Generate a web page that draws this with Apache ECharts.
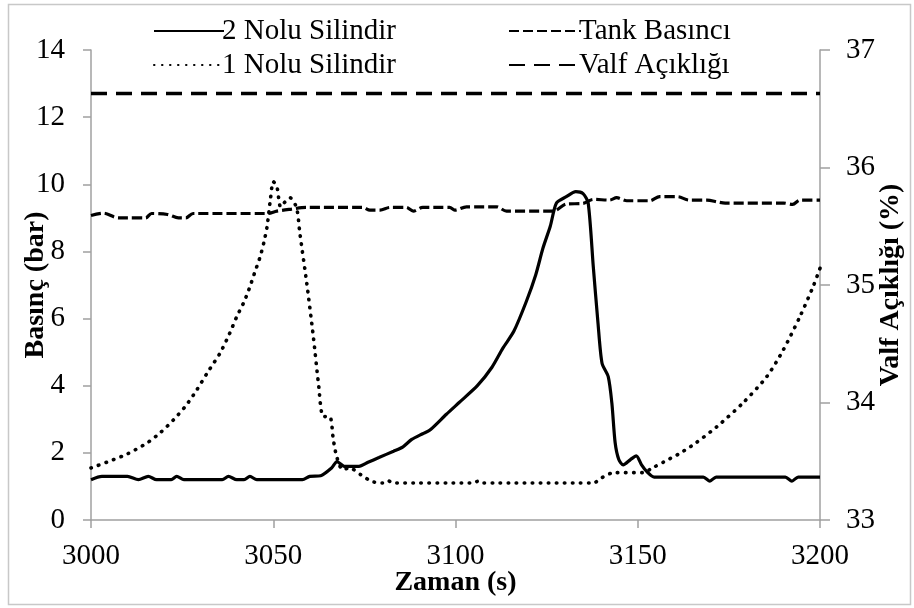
<!DOCTYPE html>
<html>
<head>
<meta charset="utf-8">
<script src="https://cdn.jsdelivr.net/npm/echarts@6/dist/echarts.min.js"></script>
<style>html,body{margin:0;padding:0;background:#fff}#c{width:914px;height:608px}</style>
</head>
<body>
<div id="c"></div>
<script>
// ---- data ----
const xTicks = [3000, 3050, 3100, 3150, 3200];

const cyl2Time = [3000, 3003, 3010, 3013, 3015.7, 3018, 3022, 3023.5, 3025.5, 3036, 3037.7, 3040, 3042, 3043.6, 3045.5, 3058, 3060, 3063, 3066, 3067.5, 3069.5, 3073.5, 3076, 3079, 3083, 3085.6, 3088, 3091, 3093, 3097.5, 3101, 3106, 3110, 3113, 3116, 3119.4, 3122, 3124, 3126, 3127.7, 3130.4, 3133, 3135, 3136.4, 3137.8, 3139.1, 3140.2, 3141.9, 3142.9, 3143.8, 3144.8, 3146, 3148, 3149.6, 3151, 3152.5, 3154.5, 3168, 3169.8, 3171.5, 3190.5, 3192.3, 3194, 3200];
const cyl2Pressure = [1.2, 1.3, 1.3, 1.2, 1.3, 1.2, 1.2, 1.3, 1.2, 1.2, 1.3, 1.2, 1.2, 1.3, 1.2, 1.2, 1.3, 1.32, 1.55, 1.74, 1.6, 1.6, 1.72, 1.86, 2.05, 2.18, 2.4, 2.57, 2.68, 3.15, 3.5, 4.0, 4.55, 5.12, 5.62, 6.5, 7.3, 8.1, 8.75, 9.44, 9.63, 9.78, 9.72, 9.44, 7.55, 5.86, 4.67, 4.27, 3.48, 2.3, 1.8, 1.64, 1.8, 1.91, 1.65, 1.44, 1.28, 1.28, 1.16, 1.28, 1.28, 1.16, 1.28, 1.28];

const cyl1Time = [3000, 3006, 3010, 3015.3, 3019, 3022.6, 3026, 3029, 3032, 3035.4, 3038, 3040, 3042, 3043.6, 3045, 3046.4, 3047.5, 3048.3, 3049.2, 3050, 3051, 3052, 3053, 3054.6, 3056.4, 3057.3, 3059.2, 3061, 3062.4, 3063.7, 3065.5, 3066.5, 3067.4, 3069, 3071, 3074, 3077, 3080, 3081.5, 3083, 3105, 3106, 3107, 3137.8, 3140, 3143.4, 3151.5, 3154, 3157, 3161.6, 3166, 3171.7, 3178.8, 3185.4, 3189.9, 3194.5, 3198.1, 3200];
const cyl1Pressure = [1.55, 1.79, 1.97, 2.29, 2.6, 2.98, 3.4, 3.87, 4.4, 4.97, 5.55, 6.06, 6.5, 6.95, 7.4, 7.84, 8.3, 8.74, 9.53, 10.08, 9.93, 9.33, 9.45, 9.6, 9.3, 8.54, 7.05, 5.46, 4.07, 3.08, 3.08, 2.38, 1.89, 1.5, 1.55, 1.35, 1.15, 1.1, 1.17, 1.1, 1.1, 1.15, 1.1, 1.1, 1.25, 1.41, 1.41, 1.55, 1.72, 1.99, 2.3, 2.78, 3.48, 4.27, 5.06, 6.06, 6.95, 7.5];

const tankTime = [3000, 3003.4, 3007.5, 3010, 3015, 3016.6, 3021, 3024, 3026, 3028, 3048.4, 3051, 3055, 3059, 3074.6, 3076.5, 3079.3, 3082, 3086.5, 3088.4, 3091, 3098.4, 3099.8, 3103, 3111.3, 3114, 3126.8, 3130.4, 3135, 3137.8, 3142.3, 3144.2, 3147, 3153.3, 3156, 3161, 3164, 3169, 3172, 3174, 3190, 3192.5, 3194.5, 3200];
const tankPressure = [9.07, 9.14, 9.0, 9.0, 9.0, 9.13, 9.1, 9.0, 9.0, 9.13, 9.13, 9.2, 9.26, 9.31, 9.31, 9.23, 9.23, 9.31, 9.31, 9.2, 9.31, 9.31, 9.23, 9.33, 9.33, 9.2, 9.2, 9.41, 9.43, 9.55, 9.53, 9.6, 9.51, 9.51, 9.63, 9.63, 9.53, 9.53, 9.47, 9.44, 9.44, 9.4, 9.53, 9.53];

const valveTime = [3000, 3200];
const valveOpening = [36.63, 36.63];

const zip = (a, b) => a.map((v, i) => [v, b[i]]);

const FONT = 'Liberation Serif';
const axisGray = '#a0a0a0';

const legendText = {fontFamily: FONT, fontSize: 29, color: '#000', lineHeight: 34, padding: [0, 0, 0, -7]};

const chart = echarts.init(document.getElementById('c'), null, {renderer: 'canvas'});
chart.setOption({
  animation: false,
  backgroundColor: '#fff',
  textStyle: {fontFamily: FONT, color: '#000'},
  graphic: [{
    type: 'rect', shape: {x: 8.5, y: 4.5, width: 902, height: 600},
    style: {fill: 'none', stroke: '#c8c8c8', lineWidth: 1.5}, silent: true
  }],
  grid: {left: 91, right: 94, top: 50, bottom: 88, containLabel: false, outerBoundsMode: 'none'},
  legend: [{
    orient: 'vertical', left: 148, top: 9, itemGap: 0,
    itemWidth: 70, itemHeight: 14,
    itemStyle: {opacity: 0},
    data: ['2 Nolu Silindir', '1 Nolu Silindir'],
    textStyle: legendText
  }, {
    orient: 'vertical', left: 503, top: 9, itemGap: 0,
    itemWidth: 72, itemHeight: 14,
    itemStyle: {opacity: 0},
    data: ['Tank Basıncı', 'Valf Açıklığı'],
    textStyle: legendText
  }],
  xAxis: {
    type: 'value', min: 3000, max: 3200, interval: 50,
    name: 'Zaman (s)', nameLocation: 'middle', nameGap: 49, nameMoveOverlap: false,
    nameTextStyle: {fontFamily: FONT, fontSize: 28, fontWeight: 'bold', color: '#000'},
    axisLine: {lineStyle: {color: axisGray, width: 1.5}},
    axisTick: {show: true, length: 8, lineStyle: {color: axisGray, width: 1.5}},
    axisLabel: {fontFamily: FONT, fontSize: 29, color: '#000', margin: 22,
      formatter: v => xTicks.includes(v) ? String(v) : ''},
    splitLine: {show: false}
  },
  yAxis: [{
    type: 'value', min: 0, max: 14, interval: 2, position: 'left',
    name: 'Basınç (bar)', nameLocation: 'middle', nameGap: 41, nameRotate: 90, nameMoveOverlap: false,
    nameTextStyle: {fontFamily: FONT, fontSize: 28, fontWeight: 'bold', color: '#000'},
    axisLine: {show: true, lineStyle: {color: axisGray, width: 1.5}},
    axisTick: {show: true, length: 8, lineStyle: {color: axisGray, width: 1.5}},
    axisLabel: {fontFamily: FONT, fontSize: 29, color: '#000', margin: 26},
    splitLine: {show: false}
  }, {
    type: 'value', min: 33, max: 37, interval: 1, position: 'right',
    name: 'Valf Açıklığı (%)', nameLocation: 'middle', nameGap: 57, nameRotate: 90, nameMoveOverlap: false,
    nameTextStyle: {fontFamily: FONT, fontSize: 28, fontWeight: 'bold', color: '#000'},
    axisLine: {show: true, lineStyle: {color: axisGray, width: 1.5}},
    axisTick: {show: true, length: 10, lineStyle: {color: axisGray, width: 1.5}},
    axisLabel: {fontFamily: FONT, fontSize: 29, color: '#000', margin: 26},
    splitLine: {show: false}
  }],
  series: [{
    name: '2 Nolu Silindir', type: 'line', yAxisIndex: 0,
    data: zip(cyl2Time, cyl2Pressure), showSymbol: false, symbol: 'none', smooth: 0.25,
    lineStyle: {color: '#000', width: 3.2, type: 'solid'}, itemStyle: {color: '#000'}, z: 4
  }, {
    name: 'Tank Basıncı', type: 'line', yAxisIndex: 0,
    data: zip(tankTime, tankPressure), showSymbol: false, symbol: 'none', smooth: 0.3,
    lineStyle: {color: '#000', width: 3.2, type: [10, 4]}, itemStyle: {color: '#000'}, z: 3
  }, {
    name: '1 Nolu Silindir', type: 'line', yAxisIndex: 0,
    data: zip(cyl1Time, cyl1Pressure), showSymbol: false, symbol: 'none', smooth: 0.25,
    lineStyle: {color: '#000', width: 3.6, type: [0.5, 7.5], cap: 'round'}, itemStyle: {color: '#000'}, z: 2
  }, {
    name: 'Valf Açıklığı', type: 'line', yAxisIndex: 1,
    data: zip(valveTime, valveOpening), showSymbol: false, symbol: 'none',
    lineStyle: {color: '#000', width: 3.5, type: [16, 9]}, itemStyle: {color: '#000'}, z: 2
  }]
});
</script>
</body>
</html>
